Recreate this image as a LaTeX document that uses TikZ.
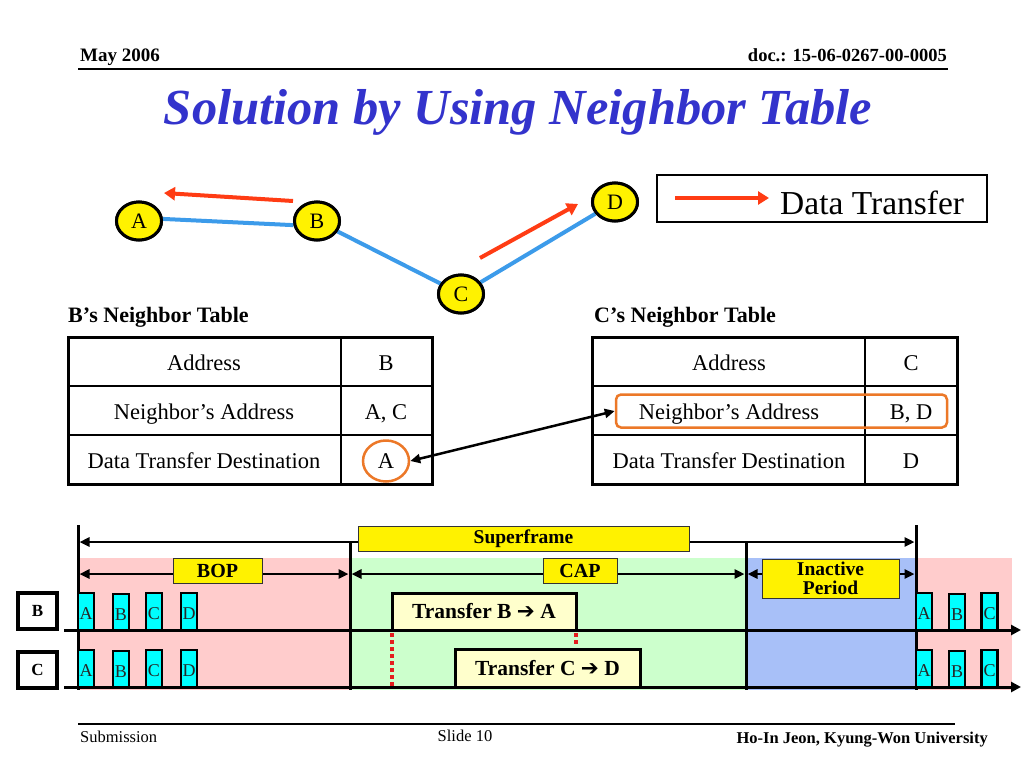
\documentclass[tikz,border=0pt]{standalone}
\usepackage{fontspec}
\setmainfont{Liberation Serif}
\newfontfamily\dejavu{DejaVu Sans}
\usetikzlibrary{arrows.meta,shapes.geometric}
\definecolor{titleblue}{RGB}{51,51,204}
\definecolor{linkblue}{RGB}{60,155,234}
\definecolor{datared}{RGB}{255,60,20}
\definecolor{selorange}{RGB}{236,120,40}
\definecolor{bgpink}{RGB}{255,204,204}
\definecolor{bggreen}{RGB}{204,255,204}
\definecolor{bgblue}{RGB}{168,192,248}
\definecolor{slotcyan}{RGB}{0,255,255}
\definecolor{lightyel}{RGB}{255,255,204}
\definecolor{dotred}{RGB}{228,30,30}
\newcommand\fsz[2]{\fontsize{#1}{#2}\selectfont}
\newcommand\rarr{{\dejavu\bfseries\char"2794}}
\begin{document}
\begin{tikzpicture}[x=1pt,y=-1pt,
  gnode/.style={ellipse,draw,line width=3pt,fill=yellow,minimum width=45pt,minimum height=38pt,inner sep=0pt,font=\fsz{22}{26}},
  blueline/.style={line width=4pt,draw=linkblue},
  redarrow/.style={line width=4pt,draw=datared,-{Triangle[length=11pt,width=13pt,fill=datared]}},
  tblouter/.style={line width=3pt},
  tblinner/.style={line width=2pt},
  celltext/.style={anchor=base,inner sep=0pt,font=\fsz{22.5}{27}},
  captext/.style={anchor=base west,inner sep=0pt,font=\bfseries\fsz{22}{26}},
  spanarrow/.style={line width=2.5pt,{Triangle[length=10pt,width=9pt]}-{Triangle[length=10pt,width=9pt]}},
  ybox/.style={draw=black!80,line width=1pt,fill=yellow,inner sep=0pt,font=\bfseries\fsz{19.5}{19}},
  vline/.style={line width=3pt},
  tline/.style={line width=3pt,-{Triangle[length=10pt,width=10pt]}},
  slot/.style={draw,line width=2.5pt,fill=slotcyan,minimum width=16pt,minimum height=37pt,inner sep=0pt},
  slottext/.style={inner sep=0pt,font=\fsz{18}{20},text=black!85},
  tbox/.style={draw,line width=3pt,fill=lightyel,inner sep=0pt,font=\bfseries\fsz{21.5}{25}},
  rowlab/.style={draw,line width=4pt,fill=white,minimum width=39pt,minimum height=36pt,inner sep=0pt,font=\bfseries\fsz{17}{20}},
  reddot/.style={line width=3.5pt,draw=dotred,dash pattern=on 3.5pt off 3.5pt}
]
\useasboundingbox[fill=white] (0,0) rectangle (1024,768);

% header
\node[anchor=base west,inner sep=0pt,font=\bfseries\fsz{19}{22}] (hdate) at (80,62) {May 2006};
\node[anchor=base east,inner sep=0pt,font=\bfseries\fsz{18.5}{22}] (hdoc) at (947,62) {doc.: 15-06-0267-00-0005};
\coordinate (hl1) at (78,69); \coordinate (hl2) at (948,69);
\draw[line width=2pt] (hl1) -- (hl2);

% title
\node[anchor=base,inner sep=0pt,font=\bfseries\itshape\fsz{50.5}{60},text=titleblue] (title) at (518,124) {Solution by Using Neighbor Table};

% graph
\node[gnode] (A) at (139,221) {A};
\node[gnode] (B) at (317,221) {B};
\node[gnode] (C) at (461,294) {C};
\node[gnode] (D) at (615,202) {D};
\draw[blueline] (A.5) -- (B.190);
\draw[blueline] (B) -- (C);
\draw[blueline] (C) -- (D);
\node[gnode] at (A) {A};
\node[gnode] at (B) {B};
\node[gnode] at (C) {C};
\node[gnode] at (D) {D};
\coordinate (rba1) at (293,201); \coordinate (rba2) at (164,193);
\draw[redarrow] (rba1) -- (rba2);
\coordinate (rcd1) at (480,258); \coordinate (rcd2) at (578,204);
\draw[redarrow] (rcd1) -- (rcd2);

% legend
\node[draw,line width=1.2pt,minimum width=330pt,minimum height=47pt,inner sep=0pt] (legend) at (822,198.5) {};
\coordinate (lg1) at (675,198); \coordinate (lg2) at (769,198);
\draw[redarrow] (lg1) -- (lg2);
\node[anchor=base west,inner sep=0pt,font=\fsz{33.5}{40}] (lgtext) at (780,214) {Data Transfer};

% table B
\node[captext] (capB) at (68,322) {B’s Neighbor Table};
\draw[tblinner] (341,337) -- (341,484);
\draw[tblinner] (68,386) -- (432,386);
\draw[tblinner] (68,435) -- (432,435);
\draw[tblouter] (68,337) rectangle (432,484);
\node[celltext] (b11) at (204,370) {Address};
\node[celltext] (b12) at (386,370) {B};
\node[celltext] (b21) at (204,419) {Neighbor’s Address};
\node[celltext] (b22) at (386,419) {A, C};
\node[celltext] (b31) at (204,468) {Data Transfer Destination};
\node[celltext] (b32) at (386,468) {A};
\node[ellipse,draw=selorange,line width=2.5pt,minimum width=46pt,minimum height=41pt,inner sep=0pt] (selA) at (386,461) {};

% table C
\node[captext] (capC) at (594,322) {C’s Neighbor Table};
\draw[tblinner] (865,337) -- (865,484);
\draw[tblinner] (592,386) -- (957,386);
\draw[tblinner] (592,435) -- (957,435);
\draw[tblouter] (592,337) rectangle (957,484);
\node[celltext] (c11) at (729,370) {Address};
\node[celltext] (c12) at (911,370) {C};
\node[celltext] (c21) at (729,419) {Neighbor’s Address};
\node[celltext] (c22) at (911,419) {B, D};
\node[celltext] (c31) at (729,468) {Data Transfer Destination};
\node[celltext] (c32) at (911,468) {D};
\node[draw=selorange,line width=2.5pt,rounded corners=5pt,minimum width=331pt,minimum height=33pt,inner sep=0pt] (selC) at (781.5,411) {};

\draw[line width=2.5pt,{Triangle[length=10pt,width=9pt]}-{Triangle[length=10pt,width=9pt]}] (selA.east) -- (selC.west);

% timeline backgrounds
\fill[bgpink] (78,558) rectangle (350,690);
\fill[bggreen] (350,558) rectangle (746,690);
\fill[bgblue] (746,558) rectangle (916,690);
\fill[bgpink] (916,558) rectangle (1012,690);

% vertical lines
\coordinate (v1t) at (78,525);  \coordinate (v1b) at (78,690);
\coordinate (v2t) at (350,542); \coordinate (v2b) at (350,690);
\coordinate (v3t) at (746,542); \coordinate (v3b) at (746,690);
\coordinate (v4t) at (916,525); \coordinate (v4b) at (916,690);
\draw[vline] (v1t) -- (v1b);
\draw[vline] (v2t) -- (v2b);
\draw[vline] (v3t) -- (v3b);
\draw[vline] (v4t) -- (v4b);

% span arrows
\coordinate (sfL) at (79.5,542); \coordinate (sfR) at (914.5,542);
\draw[spanarrow] (sfL) -- (sfR);
\coordinate (bopL) at (79.5,574); \coordinate (bopR) at (348.5,574);
\draw[spanarrow] (bopL) -- (bopR);
\coordinate (capL) at (351.5,574); \coordinate (capR) at (744.5,574);
\draw[spanarrow] (capL) -- (capR);
\coordinate (inL) at (747.5,574); \coordinate (inR) at (914.5,574);
\draw[spanarrow] (inL) -- (inR);

\node[ybox,minimum width=331pt,minimum height=25pt] (sf) at (523.5,538.5) {Superframe};
\node[ybox,minimum width=89pt,minimum height=25pt,font=\bfseries\fsz{20}{20}] (bop) at (217.5,570.5) {BOP};
\node[ybox,minimum width=74pt,minimum height=25pt,font=\bfseries\fsz{20}{20}] (cap) at (580,570.5) {CAP};
\node[ybox,minimum width=137pt,minimum height=39pt,align=center] (inact) at (830.5,578.5) {Inactive\\Period};

% slots B row
\foreach \nm/\xx/\yy/\lt in {bsA/86/611.5/A, bsB/121/612.5/B, bsC/154/611.5/C, bsD/189/611.5/D,
                             bsA2/924/611.5/A, bsB2/957/612.5/B, bsC2/989.5/611.5/C,
                             csA/86/668.5/A, csB/121/669.5/B, csC/154/668.5/C, csD/189/668.5/D,
                             csA2/924/668.5/A, csB2/957/669.5/B, csC2/989.5/668.5/C}{
  \node[slot] (\nm) at (\xx,\yy) {};
  \node[slottext] (\nm t) at ([yshift=-2pt]\nm.center) {\lt};
}

% transfer boxes
\node[tbox,minimum width=184pt,minimum height=37pt] (tba) at (484,611.5) {Transfer B \rarr{} A};
\node[tbox,minimum width=185pt,minimum height=38pt] (tcd) at (547.5,668) {Transfer C \rarr{} D};

% time lines
\coordinate (tlB1) at (64,630); \coordinate (tlB2) at (1021,630);
\coordinate (tlC1) at (64,687); \coordinate (tlC2) at (1021,687);
\draw[tline] (tlB1) -- (tlB2);
\draw[tline] (tlC1) -- (tlC2);

% red dotted
\coordinate (rd1t) at (392,633); \coordinate (rd1b) at (392,687);
\coordinate (rd2t) at (576,633); \coordinate (rd2b) at (576,646);
\draw[reddot] (rd1t) -- (rd1b);
\draw[reddot] (rd2t) -- (rd2b);

% row labels
\node[rowlab] (rowB) at (37.5,611) {B};
\node[rowlab] (rowC) at (37.5,670) {C};

% footer
\coordinate (fl1) at (78,724); \coordinate (fl2) at (955,724);
\draw[line width=2pt] (fl1) -- (fl2);
\node[anchor=base west,inner sep=0pt,font=\fsz{16.5}{20}] (fsub) at (80,742) {Submission};
\node[anchor=base,inner sep=0pt,font=\fsz{16.5}{20}] (fslide) at (465,741) {Slide 10};
\node[anchor=base east,inner sep=0pt,font=\bfseries\fsz{16.5}{20}] (fauth) at (988,743) {Ho-In Jeon, Kyung-Won University};
\end{tikzpicture}
\end{document}
